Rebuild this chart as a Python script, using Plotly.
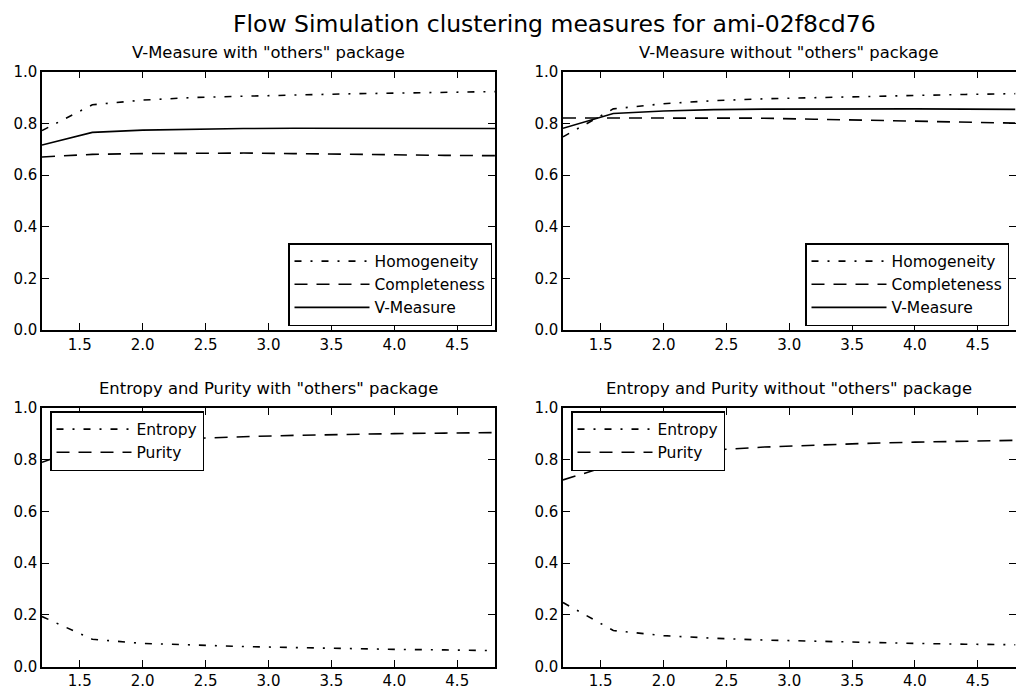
import plotly.graph_objects as go

# ---------------- data ----------------
x_vals = [1.2, 1.6, 2.0, 2.4, 2.8, 3.2, 3.6, 4.0, 4.4, 4.8]

# V-Measure with "others" package
hom_with = [0.772, 0.872, 0.890, 0.900, 0.905, 0.910, 0.914, 0.917, 0.920, 0.923]
comp_with = [0.670, 0.680, 0.683, 0.685, 0.685, 0.683, 0.680, 0.678, 0.676, 0.675]
vm_with = [0.716, 0.765, 0.774, 0.778, 0.780, 0.781, 0.781, 0.781, 0.781, 0.780]

# V-Measure without "others" package
hom_without = [0.748, 0.856, 0.876, 0.888, 0.895, 0.900, 0.905, 0.908, 0.912, 0.915]
comp_without = [0.821, 0.821, 0.822, 0.822, 0.820, 0.816, 0.812, 0.808, 0.805, 0.801]
vm_without = [0.781, 0.838, 0.848, 0.853, 0.855, 0.856, 0.856, 0.856, 0.855, 0.854]

# Entropy and Purity with "others" package
ent_with = [0.194, 0.106, 0.090, 0.083, 0.078, 0.074, 0.070, 0.067, 0.065, 0.062]
pur_with = [0.790, 0.860, 0.875, 0.883, 0.889, 0.894, 0.898, 0.901, 0.903, 0.905]

# Entropy and Purity without "others" package
ent_without = [0.248, 0.140, 0.120, 0.110, 0.103, 0.098, 0.094, 0.090, 0.087, 0.085]
pur_without = [0.722, 0.782, 0.815, 0.838, 0.849, 0.857, 0.863, 0.868, 0.872, 0.875]

x_ticks = [1.5, 2.0, 2.5, 3.0, 3.5, 4.0, 4.5]
x_tick_labels = ["1.5", "2.0", "2.5", "3.0", "3.5", "4.0", "4.5"]
y_ticks = [0.0, 0.2, 0.4, 0.6, 0.8, 1.0]
y_tick_labels = ["0.0", "0.2", "0.4", "0.6", "0.8", "1.0"]

main_title = "Flow Simulation clustering measures for ami-02f8cd76"
sub_titles = [
    'V-Measure with "others" package',
    'V-Measure without "others" package',
    'Entropy and Purity with "others" package',
    'Entropy and Purity without "others" package',
]

# ---------------- styling ----------------
FONT = "DejaVu Sans"
W, H = 1016, 690
DASH = "13px,9px"
DASHDOT = "7px,9px,2px,9px"
LW = 1.6

x_dom = [[42 / W, 495 / W], [563 / W, 1015.5 / W]]
y_dom = [[(H - 330) / H, (H - 71.7) / H], [(H - 666.7) / H, (H - 408) / H]]

fig = go.Figure()

panels = [
    (0, 0, [("Homogeneity", hom_with, DASHDOT), ("Completeness", comp_with, DASH), ("V-Measure", vm_with, "solid")]),
    (1, 0, [("Homogeneity", hom_without, DASHDOT), ("Completeness", comp_without, DASH), ("V-Measure", vm_without, "solid")]),
    (0, 1, [("Entropy", ent_with, DASHDOT), ("Purity", pur_with, DASH)]),
    (1, 1, [("Entropy", ent_without, DASHDOT), ("Purity", pur_without, DASH)]),
]

axis_common = dict(
    showline=True, linecolor="black", linewidth=1.5, mirror="allticks",
    ticks="inside", ticklen=7, tickwidth=1, tickcolor="black",
    showgrid=False, zeroline=False,
    tickfont=dict(family=FONT, size=15, color="black"),
    automargin=False,
)

for i, (cx, ry, series) in enumerate(panels):
    n = i + 1
    xa = "x" if n == 1 else f"x{n}"
    ya = "y" if n == 1 else f"y{n}"
    leg = "legend" if n == 1 else f"legend{n}"
    for j, (name, vals, dash) in enumerate(series):
        fig.add_trace(go.Scatter(
            x=x_vals, y=vals, mode="lines", name=name,
            line=dict(color="black", width=LW, dash=dash),
            xaxis=xa, yaxis=ya, legend=leg,
        ))
    fig.layout[f"xaxis{'' if n == 1 else n}"] = dict(
        domain=x_dom[cx], anchor=ya, range=[1.2, 4.8],
        tickvals=x_ticks, ticktext=x_tick_labels, **axis_common)
    fig.layout[f"yaxis{'' if n == 1 else n}"] = dict(
        domain=y_dom[ry], anchor=xa, range=[0, 1],
        tickvals=y_ticks, ticktext=y_tick_labels, **axis_common)

    # legend
    legend_cfg = dict(
        bgcolor="white", bordercolor="black", borderwidth=1.5,
        font=dict(family=FONT, size=15.5, color="black"),
        itemwidth=75, xref="paper", yref="paper",
    )
    if ry == 0:
        right_px = 492 if cx == 0 else 1009
        legend_cfg.update(x=right_px / W, xanchor="right", y=(H - 326) / H, yanchor="bottom")
    else:
        left_px = 50 if cx == 0 else 571
        legend_cfg.update(x=left_px / W, xanchor="left", y=(H - 411) / H, yanchor="top")
    fig.layout[leg] = legend_cfg

    # subplot title
    title_y_px = 52 if ry == 0 else 388
    fig.add_annotation(
        text=sub_titles[i], xref="paper", yref="paper",
        x=(x_dom[cx][0] + x_dom[cx][1]) / 2, y=(H - title_y_px) / H,
        xanchor="center", yanchor="middle", showarrow=False,
        font=dict(family=FONT, size=16.4, color="black"),
    )

fig.add_annotation(
    text=main_title, xref="paper", yref="paper",
    x=554 / W, y=(H - 24) / H, xanchor="center", yanchor="middle",
    showarrow=False, font=dict(family=FONT, size=23.5, color="black"),
)

fig.update_layout(
    width=W, height=H,
    margin=dict(l=0, r=0, t=0, b=0),
    paper_bgcolor="white", plot_bgcolor="white",
    showlegend=True,
)

fig.write_html("out.html")
